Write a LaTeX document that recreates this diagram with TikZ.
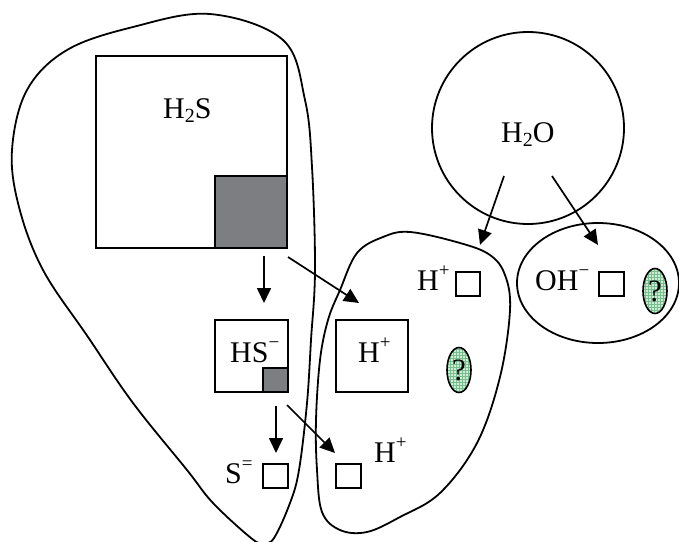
\documentclass[tikz,border=0pt]{standalone}
\usepackage{fontspec}
\setmainfont{Liberation Serif}
\usetikzlibrary{arrows.meta,patterns,shapes.geometric}
\newcommand\lowtxt[1]{\raisebox{-4.5pt}{\fontsize{20}{20}\selectfont #1}}
\newcommand\hightxt[1]{\raisebox{14pt}{\fontsize{19}{19}\selectfont #1}}
\definecolor{mint}{RGB}{205,236,214}
\definecolor{mintgrid}{RGB}{120,190,140}
\definecolor{molgray}{RGB}{125,126,130}
\begin{document}
\begin{tikzpicture}[x=1pt,y=-1pt,
  box/.style={draw, line width=1.9pt, inner sep=0pt, fill=white},
  grayq/.style={draw, line width=1.9pt, inner sep=0pt, fill=molgray},
  lbl/.style={anchor=base west, inner sep=0pt, font=\fontsize{30}{34}\selectfont},
  blob/.style={draw, line width=1.8pt},
  arr/.style={line width=1.7pt, -{Triangle[length=15pt,width=14pt]}},
  qoval/.style={draw, line width=1.6pt, ellipse, minimum width=24pt, minimum height=45pt, inner sep=0pt,
    preaction={fill=mint}, pattern=grid, pattern color=mintgrid,
    font=\fontsize{31}{32}\selectfont},
]
\useasboundingbox (0,0) rectangle (679,541);

% enclosing curves
\draw[blob] plot[smooth cycle, tension=0.6] coordinates {
  (210,14) (283,40) (305,100) (312,167) (315,270) (311,340) (307,403) (299,470) (290,503) (274,538)
  (263,543) (251,538) (213,503) (187,470) (133,403) (88,337) (43,270) (19,207) (12,150) (27,90) (67,50) (133,27)};
\draw[blob] plot[smooth cycle, tension=0.6] coordinates {
  (410,232) (460,243) (490,255) (505,275) (510,310) (500,377) (477,443) (440,493) (400,517) (367,532)
  (340,530) (322,512) (317,470) (316,420) (320,360) (328,320) (340,290) (357,253) (383,237)};
\node[draw, line width=1.8pt, circle, minimum size=192pt, inner sep=0pt] (water) at (528,128) {};
\node[draw, line width=1.8pt, ellipse, minimum width=162pt, minimum height=120pt, inner sep=0pt] (ohreg) at (598,283) {};

% boxes
\node[box, minimum width=191pt, minimum height=192pt] (h2s) at (191.5,152) {};
\node[grayq, minimum width=72pt, minimum height=72pt, anchor=south east] (h2sq) at (h2s.south east) {};
\node[box, minimum width=73pt, minimum height=72pt] (hs) at (251.5,356) {};
\node[grayq, minimum width=25pt, minimum height=24pt, anchor=south east] (hsq) at (hs.south east) {};
\node[box, minimum width=72pt, minimum height=72pt] (hp) at (372,356) {};
\node[box, minimum width=25pt, minimum height=24pt] (sbox) at (275.5,476) {};
\node[box, minimum width=25pt, minimum height=24pt] (hbox2) at (348.5,476) {};
\node[box, minimum width=24pt, minimum height=24pt] (hbox1) at (468,284) {};
\node[box, minimum width=25pt, minimum height=24pt] (ohbox) at (611.5,284) {};

% labels
\node[lbl] (t1) at (163,118) {H\lowtxt{2}S};
\node[lbl] (t2) at (230,362) {HS\hightxt{−}};
\node[lbl] (t3) at (358,362) {H\hightxt{+}};
\node[lbl] (t4) at (417,290) {H\hightxt{+}};
\node[lbl] (t5) at (374,462) {H\hightxt{+}};
\node[lbl] (t6) at (225,483) {S\hightxt{=}};
\node[lbl] (t7) at (535,290) {OH\hightxt{−}};
\node[lbl] (t8) at (501,142) {H\lowtxt{2}O};

% question ovals
\node[qoval] (q1) at (459,370) {?};
\node[qoval] (q2) at (655,291) {?};

% arrows
\coordinate (a1s) at (264,256); \coordinate (a1e) at (264,303);
\coordinate (a2s) at (288,257); \coordinate (a2e) at (359,303);
\coordinate (a3s) at (276,406); \coordinate (a3e) at (276,453);
\coordinate (a4s) at (287,405); \coordinate (a4e) at (335,453);
\coordinate (a5s) at (504,176); \coordinate (a5e) at (480,245);
\coordinate (a6s) at (552,176); \coordinate (a6e) at (598,245);
\draw[arr] (a1s) -- (a1e);
\draw[arr] (a2s) -- (a2e);
\draw[arr] (a3s) -- (a3e);
\draw[arr] (a4s) -- (a4e);
\draw[arr] (a5s) -- (a5e);
\draw[arr] (a6s) -- (a6e);
\end{tikzpicture}
\end{document}
